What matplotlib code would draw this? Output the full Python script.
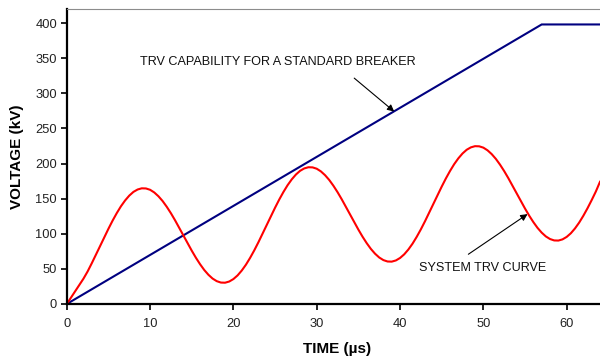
import matplotlib
matplotlib.use("Agg")
import matplotlib.pyplot as plt

plt.rcParams['font.family'] = ['Liberation Sans', 'DejaVu Sans']

# Breaker TRV capability envelope (kV vs µs)
cap_time = [0, 57, 64]
cap_kv = [0, 398, 398]

# System TRV curve (kV), sampled every 0.5 µs from 0 to 64 µs
sys_step = 0.5
sys_kv = [0, 9, 18, 27, 36, 46.3, 58, 70.1, 82.5, 94.9,
          107.1, 118.7, 129.4, 139.1, 147.4, 154.3, 159.6, 163.0, 164.7, 164.5,
          162.6, 158.8, 153.4, 146.6, 138.4, 129.2, 119.1, 108.4, 97.5, 86.6,
          75.9, 65.8, 56.6, 48.4, 41.6, 36.2, 32.5, 30.5, 30.3, 32.0,
          35.5, 40.7, 47.6, 55.9, 65.6, 76.3, 87.9, 100.1, 112.5, 124.9,
          137.1, 148.7, 159.4, 169.1, 177.4, 184.3, 189.6, 193.0, 194.7, 194.5,
          192.6, 188.8, 183.4, 176.6, 168.4, 159.2, 149.1, 138.4, 127.5, 116.6,
          105.9, 95.8, 86.6, 78.4, 71.6, 66.2, 62.5, 60.5, 60.3, 62.0,
          65.5, 70.7, 77.6, 85.9, 95.6, 106.3, 117.9, 130.1, 142.5, 154.9,
          167.1, 178.7, 189.4, 199.1, 207.4, 214.3, 219.6, 223.0, 224.7, 224.5,
          222.6, 218.8, 213.4, 206.6, 198.4, 189.2, 179.1, 168.4, 157.5, 146.6,
          135.9, 125.8, 116.6, 108.4, 101.6, 96.2, 92.5, 90.5, 90.3, 92.0,
          95.5, 100.7, 107.6, 115.9, 125.6, 136.3, 147.9, 160.1, 174.0]
sys_time = [i * sys_step for i in range(len(sys_kv))]

x_ticks = [0, 10, 20, 30, 40, 50, 60]
y_ticks = [0, 50, 100, 150, 200, 250, 300, 350, 400]

cap_label = "TRV CAPABILITY FOR A STANDARD BREAKER"
sys_label = "SYSTEM TRV CURVE"

fig = plt.figure(figsize=(6.0, 3.56), dpi=100)
ax = fig.add_axes([0.1113, 0.1461, 0.8887, 0.8286])

ax.plot(cap_time, cap_kv, color='#000080', lw=1.5, solid_joinstyle='miter')
ax.plot(sys_time, sys_kv, color='#ff0000', lw=1.5)

ax.set_xlim(0, 64)
ax.set_ylim(0, 420)
ax.set_xticks(x_ticks)
ax.set_yticks(y_ticks)

for side in ('left', 'bottom'):
    ax.spines[side].set_linewidth(1.6)
    ax.spines[side].set_color('black')
ax.spines['right'].set_visible(False)
ax.spines['top'].set_color('#8c8c8c')
ax.spines['top'].set_linewidth(0.8)

ax.tick_params(axis='both', direction='out', length=4, width=1.2,
               labelsize=9.3, colors='black', labelcolor='#222222', pad=3)
ax.tick_params(axis='x', pad=6)

ax.set_xlabel("TIME (µs)", fontsize=11, fontweight='bold')
ax.set_ylabel("VOLTAGE (kV)", fontsize=11, fontweight='bold')
ax.xaxis.set_label_coords((337.5 - 66.8) / 533.2, -0.128)
ax.yaxis.set_label_coords(-0.081, 0.5)

arrow_style = dict(arrowstyle='-|>', color='black', lw=0.8,
                   mutation_scale=10, shrinkA=0, shrinkB=0)

ax.text(8.8, 345, cap_label, fontsize=9.1, color='#111111',
        ha='left', va='center')
ax.annotate("", xy=(39.3, 274), xytext=(34.5, 321.6), arrowprops=arrow_style)

ax.text(42.3, 50.8, sys_label, fontsize=9.1, color='#111111',
        ha='left', va='center')
ax.annotate("", xy=(55.3, 128), xytext=(48.2, 70.8), arrowprops=arrow_style)

fig.savefig("out.png", dpi=100)
